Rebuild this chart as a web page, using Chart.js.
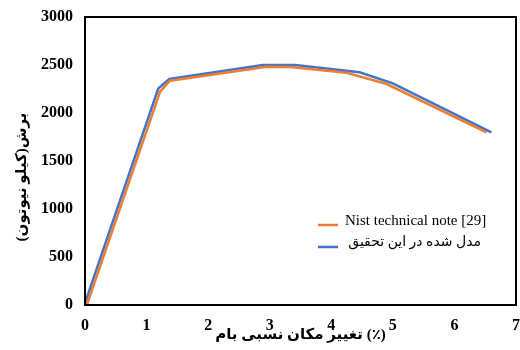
<!DOCTYPE html>
<html>
<head>
<meta charset="utf-8">
<script src="https://cdn.jsdelivr.net/npm/chart.js@4"></script>
<style>
  html, body { margin: 0; padding: 0; background: #fff; }
  #wrap { width: 520px; height: 350px; }
</style>
</head>
<body>
<div id="wrap"><canvas id="shearChart" width="520" height="350"></canvas></div>
<script>
// Data
const nistX = [0.03, 1.22, 1.38, 2.95, 3.33, 4.25, 4.9, 6.52];
const nistY = [0, 2222, 2337, 2482, 2479, 2420, 2302, 1799];
const modelX = [0, 1.19, 1.37, 2.89, 3.41, 4.46, 5.0, 6.6];
const modelY = [20, 2255, 2354, 2500, 2500, 2424, 2309, 1799];

const seriesLabels = ['Nist technical note [29]', 'مدل شده در این تحقیق'];
const xTitle = 'تغییر مکان نسبی بام (٪)';
const yTitle = 'برش(کیلو نیوتون)';

const serif = '"Liberation Serif", "Times New Roman", "DejaVu Sans", serif';

function toPoints(xs, ys) {
    return xs.map((x, i) => ({x: x, y: ys[i]}));
}

// frame, y title and legend inside plot
const decorations = {
    id: 'decorations',
    afterDraw(chart) {
        const ctx = chart.ctx;
        const a = chart.chartArea;
        ctx.save();
        ctx.strokeStyle = '#000';
        ctx.lineWidth = 2;
        ctx.strokeRect(a.left, a.top, a.right - a.left, a.bottom - a.top);

        // y axis title
        ctx.translate(22, 177);
        ctx.rotate(-Math.PI / 2);
        ctx.direction = 'rtl';
        ctx.font = 'bold 15px ' + serif;
        ctx.fillStyle = '#000';
        ctx.textAlign = 'center';
        ctx.textBaseline = 'middle';
        ctx.fillText(yTitle, 0, 0);
        ctx.restore();

        // legend
        ctx.save();
        const ds = chart.data.datasets;
        ctx.lineWidth = 2.5;
        ctx.strokeStyle = ds[0].borderColor;
        ctx.beginPath(); ctx.moveTo(318, 225); ctx.lineTo(338, 225); ctx.stroke();
        ctx.strokeStyle = ds[1].borderColor;
        ctx.beginPath(); ctx.moveTo(318, 247); ctx.lineTo(338, 247); ctx.stroke();
        ctx.fillStyle = '#000';
        ctx.font = '15px ' + serif;
        ctx.textBaseline = 'middle';
        ctx.textAlign = 'left';
        ctx.fillText(ds[0].label, 345, 221);
        ctx.direction = 'rtl';
        ctx.textAlign = 'right';
        ctx.font = '14px ' + serif;
        ctx.fillText(ds[1].label, 481, 242);
        ctx.restore();
    }
};

const ctx = document.getElementById('shearChart').getContext('2d');
new Chart(ctx, {
    type: 'line',
    data: {
        datasets: [{
            label: seriesLabels[0],
            data: toPoints(nistX, nistY),
            borderColor: '#ED7D31',
            borderWidth: 2.5,
            pointRadius: 0,
            fill: false,
            tension: 0
        }, {
            label: seriesLabels[1],
            data: toPoints(modelX, modelY),
            borderColor: '#4472C4',
            borderWidth: 2.5,
            pointRadius: 0,
            fill: false,
            tension: 0
        }]
    },
    options: {
        responsive: false,
        animation: false,
        events: [],
        layout: {padding: {top: 17, right: 4, bottom: 0, left: 0}},
        plugins: {legend: {display: false}, tooltip: {enabled: false}},
        scales: {
            x: {
                type: 'linear',
                min: 0, max: 7,
                grid: {display: false, drawTicks: false},
                border: {display: false},
                ticks: {stepSize: 1, padding: 11, color: '#000', maxRotation: 0,
                        font: {family: serif, size: 16, weight: 'bold'},
                        callback: v => String(v)},
                title: {display: true, text: xTitle, color: '#000', padding: {top: 0, bottom: 6},
                        font: {family: serif, size: 15, weight: 'bold'}},
                afterFit(scale) {
                    scale.height = 45;
                    scale.paddingLeft = 0;
                    scale.paddingRight = 0;
                }
            },
            y: {
                min: 0, max: 3000,
                grid: {display: false, drawTicks: false},
                border: {display: false},
                ticks: {stepSize: 500, padding: 12, color: '#000',
                        font: {family: serif, size: 16, weight: 'bold'},
                        callback: v => String(v)},
                afterFit(scale) {
                    scale.width = 85;
                    scale.paddingTop = 0;
                    scale.paddingBottom = 0;
                }
            }
        }
    },
    plugins: [decorations]
});
</script>
</body>
</html>
